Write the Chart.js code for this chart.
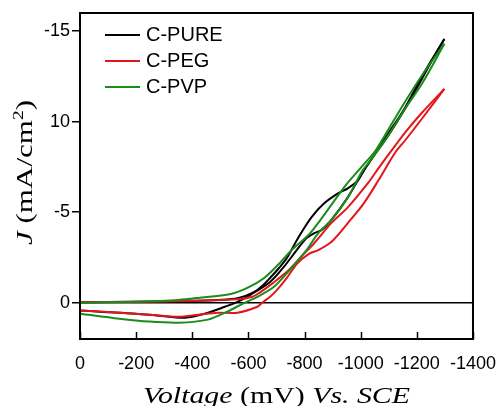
<!DOCTYPE html>
<html>
<head>
<meta charset="utf-8">
<script src="https://cdn.jsdelivr.net/npm/chart.js@4.4.1/dist/chart.umd.min.js"></script>
<style>
html, body { margin: 0; padding: 0; background: #fff; }
#wrap { width: 502px; height: 406px; position: relative; }
</style>
</head>
<body>
<div id="wrap"><canvas id="cv"></canvas></div>
<script>
// potential (mV vs SCE) and current density (mA/cm2), one closed CV loop per sample
var pureV = [0, -200, -400, -491, -561, -621, -649, -677, -709, -737, -779, -825, -870, -919, -954, -990, -1011, -1028, -1098, -1158, -1218, -1298,
             -1263, -1218, -1158, -1098, -1035, -1007, -954, -895, -860, -835, -807, -772, -726, -677, -607, -561, -516, -456, -375, -281, -200, -70, 0];
var pureJ = [-0.03, -0.05, -0.11, -0.16, -0.25, -0.6, -0.93, -1.37, -1.92, -2.47, -3.63, -4.73, -5.49, -6.04, -6.32, -6.76, -7.31, -7.69, -9.34, -10.77, -12.5, -14.56,
             -13.63, -12.36, -10.71, -9.23, -7.86, -7.2, -5.82, -4.56, -4.01, -3.85, -3.57, -2.91, -1.98, -1.15, -0.44, -0.05, 0.22, 0.55, 0.82, 0.71, 0.6, 0.49, 0.42];

var pegV = [0, -200, -400, -561, -614, -639, -688, -744, -790, -835, -895, -954, -1025, -1063, -1123, -1158, -1218, -1298,
            -1218, -1158, -1123, -1063, -1011, -954, -895, -849, -814, -772, -737, -702, -677, -649, -632, -561, -491, -421, -351, -246, -140, 0];
var pegJ = [-0.03, -0.05, -0.11, -0.19, -0.33, -0.55, -1.1, -1.81, -2.58, -3.3, -4.4, -5.27, -6.59, -7.42, -8.68, -9.4, -10.49, -11.81,
            -10.16, -8.96, -8.3, -6.76, -5.49, -4.4, -3.35, -2.91, -2.69, -2.14, -1.37, -0.71, -0.33, 0, 0.22, 0.55, 0.55, 0.66, 0.77, 0.66, 0.55, 0.42];

var pvpV = [0, -200, -351, -421, -537, -596, -656, -712, -754, -814, -853, -900, -947, -1000, -1053, -1098, -1158, -1218, -1298,
            -1218, -1158, -1098, -1035, -1007, -954, -895, -849, -807, -747, -691, -632, -586, -526, -456, -351, -246, -140, 0];
var pvpJ = [0, -0.05, -0.16, -0.27, -0.49, -0.82, -1.37, -2.2, -2.91, -3.74, -4.5, -5.5, -6.5, -7.45, -8.41, -9.55, -11.1, -12.55, -14.3,
            -12.09, -10.71, -9.23, -7.86, -7.31, -5.82, -4.56, -3.85, -2.91, -1.81, -0.88, -0.33, 0, 0.48, 0.93, 1.1, 1.04, 0.88, 0.6];

var seriesNames = ['C-PURE', 'C-PEG', 'C-PVP'];
var seriesColors = ['#000000', '#e3161b', '#1b8c1b'];

var xTicks = [0, -200, -400, -600, -800, -1000, -1200, -1400];
var xTickLabels = ['0', '-200', '-400', '-600', '-800', '-1000', '-1200', '-1400'];
var yTicks = [-15, -10, -5, 0];
var yTickLabels = ['-15', '10', '-5', '0'];

var sansFont = '"Liberation Sans", Arial, sans-serif';
var serifFont = '"Liberation Serif", "Times New Roman", serif';

// split each loop at its turning point so the spline does not bend round the vertex
function loopDatasets(vs, js, idx) {
    var turn = 0;
    for (var i = 1; i < vs.length; i++) { if (vs[i] < vs[turn]) turn = i; }
    var pts = vs.map(function (v, i) { return { x: v, y: js[i] }; });
    var base = {
        showLine: true,
        borderColor: seriesColors[idx],
        backgroundColor: seriesColors[idx],
        borderWidth: 2,
        pointRadius: 0,
        tension: 0.3,
        fill: false,
        order: 2 - idx
    };
    return [
        Object.assign({ label: seriesNames[idx], data: pts.slice(0, turn + 1) }, base),
        Object.assign({ label: seriesNames[idx], data: pts.slice(turn) }, base)
    ];
}

var datasets = [].concat(
    loopDatasets(pureV, pureJ, 0),
    loopDatasets(pegV, pegJ, 1),
    loopDatasets(pvpV, pvpJ, 2)
);

function drawRich(ctx, parts, width) {
    var total = 0;
    parts.forEach(function (p) { ctx.font = p.font; total += ctx.measureText(p.text).width; });
    ctx.scale(width / total, 1);
    var x = 0;
    parts.forEach(function (p) {
        ctx.font = p.font;
        ctx.fillText(p.text, x, p.dy || 0);
        x += ctx.measureText(p.text).width;
    });
}

var decorations = {
    id: 'decorations',
    beforeDatasetsDraw: function (chart) {
        var ctx = chart.ctx, a = chart.chartArea;
        var y0 = chart.scales.y.getPixelForValue(0);
        ctx.save();
        ctx.strokeStyle = '#000';
        ctx.lineWidth = 1.5;
        ctx.beginPath();
        ctx.moveTo(a.left, y0);
        ctx.lineTo(a.right, y0);
        ctx.stroke();
        ctx.restore();
    },
    afterDraw: function (chart) {
        var ctx = chart.ctx, a = chart.chartArea, xs = chart.scales.x;
        ctx.save();
        ctx.strokeStyle = '#000';
        ctx.lineWidth = 2;
        ctx.strokeRect(a.left, a.top, a.right - a.left, a.bottom - a.top);

        // inward ticks on the bottom axis
        ctx.lineWidth = 1.5;
        xTicks.forEach(function (v) {
            var px = Math.round(xs.getPixelForValue(v)) + 0.5;
            ctx.beginPath();
            ctx.moveTo(px, a.bottom);
            ctx.lineTo(px, a.bottom - 7);
            ctx.stroke();
        });

        // legend inside the plot
        ctx.font = '20px ' + sansFont;
        ctx.textBaseline = 'middle';
        ctx.textAlign = 'left';
        seriesNames.forEach(function (name, i) {
            var ly = a.top + 22 + i * 26;
            ctx.strokeStyle = seriesColors[i];
            ctx.lineWidth = 2;
            ctx.beginPath();
            ctx.moveTo(a.left + 25, ly);
            ctx.lineTo(a.left + 60, ly);
            ctx.stroke();
            ctx.fillStyle = '#000';
            ctx.fillText(name, a.left + 66, ly);
        });

        // axis titles
        ctx.fillStyle = '#000';
        ctx.textBaseline = 'alphabetic';
        ctx.save();
        ctx.translate(143, 403);
        drawRich(ctx, [
            { text: 'Voltage', font: 'italic 24px ' + serifFont },
            { text: ' (mV) ', font: '24px ' + serifFont },
            { text: 'Vs. SCE', font: 'italic 24px ' + serifFont }
        ], 267);
        ctx.restore();

        ctx.save();
        ctx.translate(32, 245);
        ctx.rotate(-Math.PI / 2);
        drawRich(ctx, [
            { text: 'J', font: 'italic 24px ' + serifFont },
            { text: ' (mA/cm', font: '24px ' + serifFont },
            { text: '2', font: '15px ' + serifFont, dy: -9 },
            { text: ')', font: '24px ' + serifFont }
        ], 145);
        ctx.restore();

        ctx.restore();
    }
};

Chart.defaults.font.family = sansFont;
Chart.defaults.color = '#000';

new Chart(document.getElementById('cv'), {
    type: 'scatter',
    data: { datasets: datasets },
    options: {
        responsive: true,
        maintainAspectRatio: false,
        animation: false,
        devicePixelRatio: 1,
        layout: { padding: { top: 13, right: 24, left: 0, bottom: 0 } },
        scales: {
            x: {
                type: 'linear',
                min: -1400,
                max: 0,
                reverse: true,
                afterBuildTicks: function (scale) {
                    scale.ticks = xTicks.map(function (v) { return { value: v }; });
                },
                afterFit: function (scale) { scale.height = 67; },
                grid: { display: false },
                border: { display: false },
                ticks: {
                    padding: 6,
                    maxRotation: 0,
                    autoSkip: false,
                    font: { size: 18 },
                    color: '#000',
                    callback: function (value) {
                        var i = xTicks.indexOf(value);
                        return i >= 0 ? xTickLabels[i] : '';
                    }
                }
            },
            y: {
                type: 'linear',
                min: -16,
                max: 2,
                reverse: true,
                afterBuildTicks: function (scale) {
                    scale.ticks = yTicks.map(function (v) { return { value: v }; });
                },
                afterFit: function (scale) { scale.width = 80; },
                grid: {
                    drawOnChartArea: false,
                    drawTicks: true,
                    tickLength: 8,
                    tickColor: '#000',
                    lineWidth: 1.5
                },
                border: { display: false },
                ticks: {
                    padding: 2,
                    autoSkip: false,
                    font: { size: 18 },
                    color: '#000',
                    callback: function (value) {
                        var i = yTicks.indexOf(value);
                        return i >= 0 ? yTickLabels[i] : '';
                    }
                }
            }
        },
        plugins: {
            legend: { display: false },
            tooltip: { enabled: false }
        }
    },
    plugins: [decorations]
});
</script>
</body>
</html>
